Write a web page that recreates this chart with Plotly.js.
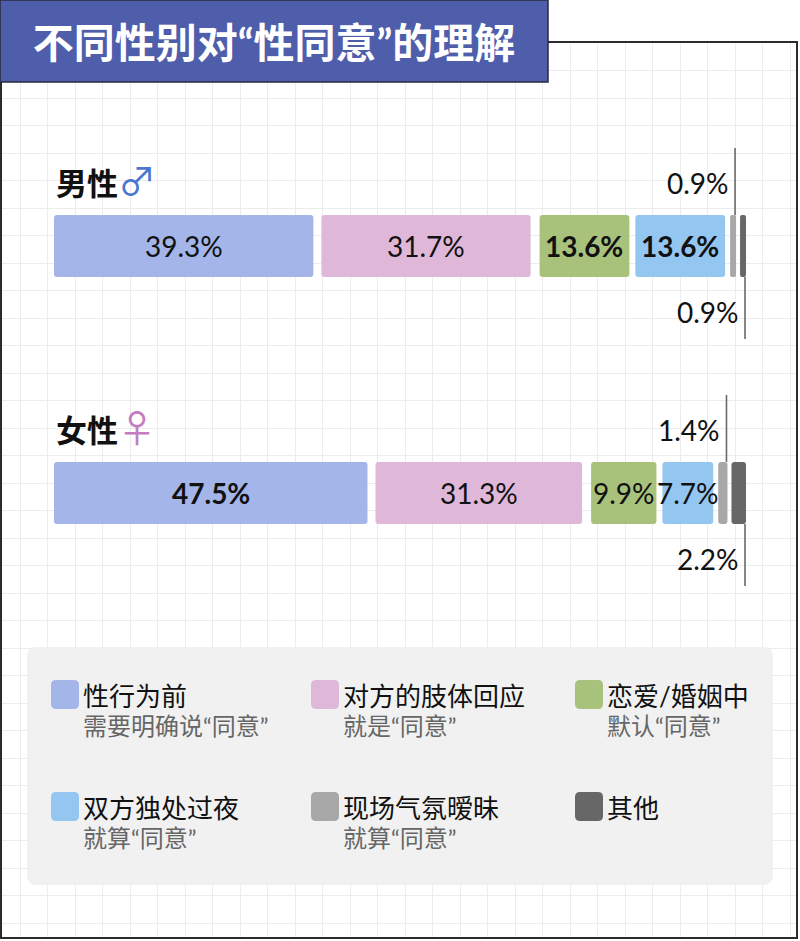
<!DOCTYPE html>
<html><head><meta charset="utf-8">
<script src="https://cdn.plot.ly/plotly-3.0.1.min.js"></script>
<style>html,body{margin:0;padding:0;background:#fff}#chart{width:800px;height:941px}</style>
</head><body><div id="chart"></div>
<script>
// ---------- data ----------
const titleText = '不同性别对“性同意”的理解';
const groups = ['男性', '女性'];
const groupSymbols = ['♂', '♀'];
const categories = ['性行为前', '对方的肢体回应', '恋爱/婚姻中', '双方独处过夜', '现场气氛暧昧', '其他'];
const categoryNotes = ['需要明确说“同意”', '就是“同意”', '默认“同意”', '就算“同意”', '就算“同意”', ''];
const maleValues = [39.3, 31.7, 13.6, 13.6, 0.9, 0.9];
const femaleValues = [47.5, 31.3, 9.9, 7.7, 1.4, 2.2];

// ---------- style ----------
const W = 800, H = 941;
const colors = ['#a3b5e9', '#dfb7d8', '#a8c27c', '#93c6f1', '#a8a8a8', '#676767'];
const symbolColors = ['#4a78d0', '#c47cc0'];
const gapPx = [8, 9, 6, 5, 4];     // visual gaps between segments (pixels)
const barPxWidth = 692;            // plot width in pixels (54 -> 746)
const SMALL = 3;                   // segments below this get outside labels
const pctFont = 'Lato, "Noto Sans", sans-serif';
const cjkFont = '"Noto Sans CJK SC", "Noto Sans", sans-serif';
const mixFont = 'Lato, "Noto Sans CJK SC", sans-serif';   // Latin quotes narrow, CJK fallback

const seriesByGroup = [maleValues, femaleValues];
const sumVals = Math.max(...seriesByGroup.map(v => v.reduce((a, b) => a + b, 0)));
const pxPerUnit = (barPxWidth - gapPx.reduce((a, b) => a + b, 0)) / sumVals;
const gapData = gapPx.map(g => g / pxPerUnit);
const total = barPxWidth / pxPerUnit;
const bases = seriesByGroup.map(vals => {
  let acc = 0;
  return vals.map((v, i) => { const b = acc; acc += v + (gapData[i] || 0); return b; });
});

// ---------- traces ----------
const traces = [{x: [], y: [], type: 'scatter', xaxis: 'x', yaxis: 'y', hoverinfo: 'skip', showlegend: false}];
categories.forEach((cat, i) => {
  traces.push({
    type: 'bar', orientation: 'h', name: cat,
    y: groups,
    x: seriesByGroup.map(vals => vals[i]),
    base: bases.map(b => b[i]),
    width: 0.251,
    marker: {color: colors[i], cornerradius: 3, line: {width: 0}},
    xaxis: 'x2', yaxis: 'y2', showlegend: false,
    hovertemplate: '%{y} ' + cat + ': %{x}%<extra></extra>'
  });
});

// ---------- annotations ----------
const annotations = [];
groups.forEach((g, gi) => {
  const vals = seriesByGroup[gi];
  const other = seriesByGroup[1 - gi];
  annotations.push({
    xref: 'x2', yref: 'y2', x: 0, y: g, xanchor: 'left', yanchor: 'middle', yshift: 68, showarrow: false,
    text: '<b>' + g + '</b><span style="color:' + symbolColors[gi] + ';font-size:38px">' + groupSymbols[gi] + '</span>',
    font: {family: cjkFont, size: 31, color: '#111'}
  });
  let smallCount = 0;
  vals.forEach((v, i) => {
    const b = bases[gi][i];
    const txt = v.toFixed(1) + '%';
    if (v >= SMALL) {
      const bold = v - other[i] >= 2;
      annotations.push({
        xref: 'x2', yref: 'y2', x: b + v / 2, y: g, xanchor: 'center', yanchor: 'middle', showarrow: false,
        text: bold ? '<b>' + txt + '</b>' : txt,
        font: {family: pctFont, size: 28, color: '#111'}
      });
    } else {
      const above = smallCount % 2 === 0;
      smallCount++;
      annotations.push({
        xref: 'x2', yref: 'y2', x: b + v, y: g, xanchor: 'right', yanchor: 'middle',
        xshift: -5, yshift: above ? 63 : -66, showarrow: false,
        text: txt, font: {family: pctFont, size: 28, color: '#111'}
      });
      annotations.push({
        xref: 'x2', yref: 'y2', x: b + v, y: g, xshift: -1, yshift: above ? 31 : -31,
        text: ' ', font: {size: 1}, showarrow: true, arrowhead: 0, arrowwidth: 1.6, arrowcolor: '#6a6a6a',
        standoff: 0, startstandoff: 0, ax: 0, ay: above ? -68 : 63, borderpad: 0
      });
    }
  });
});

// ---------- legend (custom) ----------
function P(x, y) { return (x / W).toFixed(5) + ',' + (1 - y / H).toFixed(5); }
function roundRect(x0, y0, x1, y1, r) {
  return 'M' + P(x0 + r, y0) + ' L' + P(x1 - r, y0) + ' Q' + P(x1, y0) + ' ' + P(x1, y0 + r) +
    ' L' + P(x1, y1 - r) + ' Q' + P(x1, y1) + ' ' + P(x1 - r, y1) +
    ' L' + P(x0 + r, y1) + ' Q' + P(x0, y1) + ' ' + P(x0, y1 - r) +
    ' L' + P(x0, y0 + r) + ' Q' + P(x0, y0) + ' ' + P(x0 + r, y0) + ' Z';
}
const shapes = [];
shapes.push({type: 'path', xref: 'paper', yref: 'paper', layer: 'above', path: roundRect(27, 647, 773, 885, 10),
  fillcolor: '#f1f1f1', line: {width: 0}});
const legCols = [51, 311, 575];
const legRows = [680, 792];
categories.forEach((cat, i) => {
  const cx = legCols[i % 3], ry = legRows[Math.floor(i / 3)];
  shapes.push({type: 'path', xref: 'paper', yref: 'paper', layer: 'above',
    path: roundRect(cx, ry, cx + 28, ry + 29, 5), fillcolor: colors[i], line: {width: 0}});
  const note = categoryNotes[i];
  annotations.push({xref: 'paper', yref: 'paper', x: (cx + 30) / W, y: 1 - (ry - 2) / H,
    xanchor: 'left', yanchor: 'top', align: 'left', showarrow: false,
    text: '<span style="font-size:26px;color:#111">' + cat + '</span>' +
      (note ? '<br><span style="font-size:24px;color:#666">' + note + '</span>' : ''),
    font: {family: mixFont, size: 22, color: '#666'}});
});

// frame and title box
shapes.push({type: 'path', xref: 'paper', yref: 'paper', layer: 'above',
  path: 'M' + P(548, 42) + ' L' + P(797, 42) + ' L' + P(797, 938) + ' L' + P(1, 938) + ' L' + P(1, 82),
  line: {color: '#2b2b2b', width: 2}});
shapes.push({type: 'rect', xref: 'paper', yref: 'paper', layer: 'above',
  x0: 0, x1: 548 / W, y0: 1 - 82 / H, y1: 1, fillcolor: '#4f5eab', line: {color: '#2a2a40', width: 1.5}});

const layout = {
  width: W, height: H,
  margin: {l: 0, r: 0, t: 0, b: 0},
  paper_bgcolor: '#ffffff', plot_bgcolor: 'rgba(0,0,0,0)',
  showlegend: false, barmode: 'overlay',
  title: {text: '<b>' + titleText + '</b>', x: 274 / W, xanchor: 'center', xref: 'container',
    y: 1 - 44 / H, yanchor: 'middle', yref: 'container',
    font: {family: mixFont, size: 41, color: '#ffffff'}},
  xaxis: {domain: [2 / W, 796 / W], range: [2, 796], tick0: 20, dtick: 27.5, showgrid: true,
    gridcolor: '#ececec', gridwidth: 1, showticklabels: false, ticks: '', zeroline: false, showline: false, fixedrange: true},
  yaxis: {domain: [4 / H, 898 / H], range: [4, 898], tick0: 18, dtick: 27.5, showgrid: true,
    gridcolor: '#ececec', gridwidth: 1, showticklabels: false, ticks: '', zeroline: false, showline: false, fixedrange: true},
  xaxis2: {domain: [54 / W, 746 / W], range: [0, total], visible: false, anchor: 'y2', fixedrange: true},
  yaxis2: {domain: [1 - 616.5 / H, 1 - 122.5 / H], type: 'category', categoryorder: 'array', categoryarray: groups,
    range: [1.5, -0.5], visible: false, anchor: 'x2', fixedrange: true},
  annotations: annotations,
  shapes: shapes
};

Plotly.newPlot('chart', traces, layout, {displayModeBar: false});
</script>
</body></html>
